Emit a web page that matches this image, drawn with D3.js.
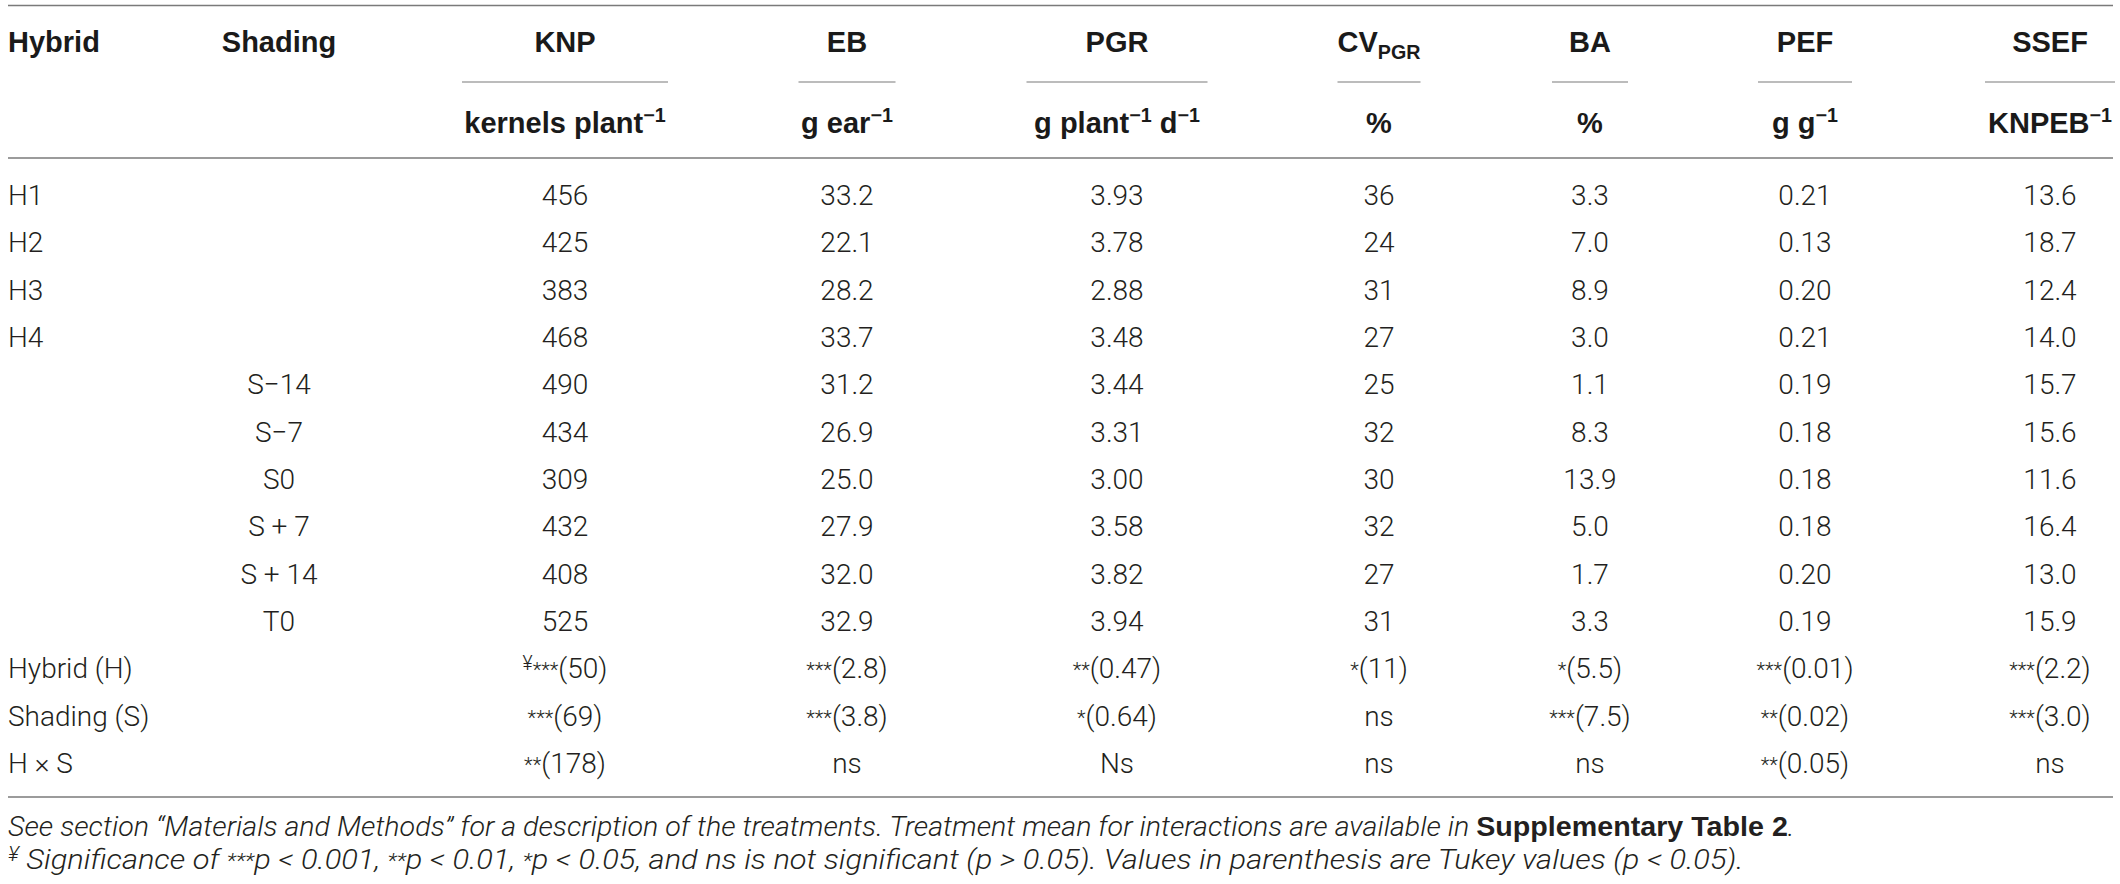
<!DOCTYPE html>
<html>
<head>
<meta charset="utf-8">
<script src="https://cdn.jsdelivr.net/npm/d3@7.9.0/dist/d3.min.js"></script>
<style>
  body { margin: 0; background: #fff; }
  svg { display: block; }
</style>
</head>
<body>
<svg id="chart"></svg>
<script>
// row labels
const hybrids = ['H1', 'H2', 'H3', 'H4'];
const shadings = ['S\u221214', 'S\u22127', 'S0', 'S + 7', 'S + 14', 'T0'];
const sources = ['Hybrid (H)', 'Shading (S)', 'H \u00d7 S'];

// column keys (header text handled below)
const columns = ['KNP', 'EB', 'PGR', 'CVPGR', 'BA', 'PEF', 'SSEF'];
const decimals = [0, 1, 2, 0, 1, 2, 1];

// treatment means, one array per column (H1..H4 then S-14..T0)
const knp  = [456, 425, 383, 468, 490, 434, 309, 432, 408, 525];
const eb   = [33.2, 22.1, 28.2, 33.7, 31.2, 26.9, 25.0, 27.9, 32.0, 32.9];
const pgr  = [3.93, 3.78, 2.88, 3.48, 3.44, 3.31, 3.00, 3.58, 3.82, 3.94];
const cvPgr = [36, 24, 31, 27, 25, 32, 30, 32, 27, 31];
const ba   = [3.3, 7.0, 8.9, 3.0, 1.1, 8.3, 13.9, 5.0, 1.7, 3.3];
const pef  = [0.21, 0.13, 0.20, 0.21, 0.19, 0.18, 0.18, 0.18, 0.20, 0.19];
const ssef = [13.6, 18.7, 12.4, 14.0, 15.7, 15.6, 11.6, 16.4, 13.0, 15.9];

// significance (Tukey values) for Hybrid, Shading, H x S
const knpSig   = ['\u00a5***(50)', '***(69)', '**(178)'];
const ebSig    = ['***(2.8)', '***(3.8)', 'ns'];
const pgrSig   = ['**(0.47)', '*(0.64)', 'Ns'];
const cvPgrSig = ['*(11)', 'ns', 'ns'];
const baSig    = ['*(5.5)', '***(7.5)', 'ns'];
const pefSig   = ['***(0.01)', '**(0.02)', '**(0.05)'];
const ssefSig  = ['***(2.2)', '***(3.0)', 'ns'];

const means = [knp, eb, pgr, cvPgr, ba, pef, ssef];
const sigs = [knpSig, ebSig, pgrSig, cvPgrSig, baSig, pefSig, ssefSig];

const W = 2120, H = 884;
const bodyFont = "Roboto, 'Liberation Sans', sans-serif";
const boldFont = "'Liberation Sans', Arial, sans-serif";
const textCol = '#231f20';
const ruleCol = '#7a7a7a';
const fs = 28;

const svg = d3.select('#chart').attr('width', W).attr('height', H);

const colX = d3.scaleOrdinal()
  .domain(['Shading', ...columns])
  .range([279, 565, 847, 1117, 1379, 1590, 1805, 2050]);
const ruleW = d3.scaleOrdinal()
  .domain(columns)
  .range([206, 97, 181, 83, 76, 94, 130]);

const allRows = [...hybrids, ...shadings, ...sources];
const y = d3.scalePoint().domain(d3.range(allRows.length)).range([195, 763]);
const base = i => y(i) + 10;

// write a run list into a text element; handles sup/sub/star/bold
function runs(text, list, size) {
  let shift = 0;
  list.forEach(r => {
    const t = text.append('tspan').text(r.t);
    let target = 0;
    if (r.sup) { t.attr('font-size', size * 0.68); target = -size * 0.38; }
    else if (r.sub) { t.attr('font-size', size * 0.68); target = size * 0.24; }
    else if (r.star) { t.attr('font-size', size * 0.72); target = -size * 0.04; }
    else if (r.yen) { t.attr('font-size', size * 0.7); target = -size * 0.3; }
    if (target !== shift) { t.attr('dy', target - shift); shift = target; }
    if (r.bold) t.attr('font-family', boldFont).attr('font-weight', 'bold').attr('font-style', 'normal');
  });
}

function sigRuns(s) {
  const m = s.match(/^(\u00a5?)(\**)(.*)$/);
  const out = [];
  if (m[1]) out.push({ t: m[1], yen: true });
  if (m[2]) out.push({ t: m[2], star: true });
  out.push({ t: m[3] });
  return out;
}

// rules
const rules = svg.append('g').attr('stroke', ruleCol).attr('stroke-width', 1.5);
[5.5, 158, 797].forEach(yy => rules.append('line').attr('x1', 8).attr('x2', 2113).attr('y1', yy).attr('y2', yy));
columns.forEach(c => {
  rules.append('line')
    .attr('x1', colX(c) - ruleW(c) / 2).attr('x2', colX(c) + ruleW(c) / 2)
    .attr('y1', 82).attr('y2', 82).attr('stroke-width', 1.2);
});

// header
const head = svg.append('g').attr('font-family', boldFont).attr('font-weight', 'bold')
  .attr('font-size', 29).attr('fill', '#1a1a1a');
head.append('text').attr('x', 8).attr('y', 52).text('Hybrid');
head.append('text').attr('x', colX('Shading')).attr('y', 52).attr('text-anchor', 'middle').text('Shading');
const headRuns = {
  KNP: [{ t: 'KNP' }], EB: [{ t: 'EB' }], PGR: [{ t: 'PGR' }],
  CVPGR: [{ t: 'CV' }, { t: 'PGR', sub: true }],
  BA: [{ t: 'BA' }], PEF: [{ t: 'PEF' }], SSEF: [{ t: 'SSEF' }]
};
const unitRuns = {
  KNP: [{ t: 'kernels plant' }, { t: '\u22121', sup: true }],
  EB: [{ t: 'g ear' }, { t: '\u22121', sup: true }],
  PGR: [{ t: 'g plant' }, { t: '\u22121', sup: true }, { t: ' d' }, { t: '\u22121', sup: true }],
  CVPGR: [{ t: '%' }],
  BA: [{ t: '%' }],
  PEF: [{ t: 'g g' }, { t: '\u22121', sup: true }],
  SSEF: [{ t: 'KNPEB' }, { t: '\u22121', sup: true }]
};
columns.forEach(c => {
  runs(head.append('text').attr('x', colX(c)).attr('y', 52).attr('text-anchor', 'middle'), headRuns[c], 29);
  runs(head.append('text').attr('x', colX(c)).attr('y', 133).attr('text-anchor', 'middle'), unitRuns[c], 29);
});

// body
const body = svg.append('g').attr('font-family', bodyFont).attr('font-weight', 300)
  .attr('font-size', fs).attr('fill', textCol);

body.selectAll('text.hyb').data(hybrids).join('text').attr('class', 'hyb')
  .attr('x', 8).attr('y', (d, i) => base(i)).text(d => d);
body.selectAll('text.sh').data(shadings).join('text').attr('class', 'sh')
  .attr('x', colX('Shading')).attr('y', (d, i) => base(i + hybrids.length))
  .attr('text-anchor', 'middle').text(d => d);
body.selectAll('text.src').data(sources).join('text').attr('class', 'src')
  .attr('x', 8).attr('y', (d, i) => base(i + hybrids.length + shadings.length)).text(d => d);

columns.forEach((c, ci) => {
  const fmt = d3.format(`.${decimals[ci]}f`);
  body.selectAll(`text.m-${c}`).data(means[ci]).join('text').attr('class', `m-${c}`)
    .attr('x', colX(c)).attr('y', (d, i) => base(i)).attr('text-anchor', 'middle').text(d => fmt(d));
  sigs[ci].forEach((s, i) => {
    runs(body.append('text').attr('x', colX(c)).attr('y', base(i + 10)).attr('text-anchor', 'middle'),
      sigRuns(s), fs);
  });
});

// footnotes
const foot = svg.append('g').attr('font-family', bodyFont).attr('font-weight', 300)
  .attr('font-style', 'italic').attr('font-size', fs).attr('fill', textCol);
const f1 = foot.append('text').attr('y', 836);
runs(f1, [
  { t: 'See section \u201cMaterials and Methods\u201d for a description of the treatments. Treatment mean for interactions are available in ' },
  { t: 'Supplementary Table 2', bold: true },
  { t: '.' }
], fs);
const f2 = foot.append('text').attr('y', 869);
runs(f2, [
  { t: '\u00a5', yen: true }, { t: ' Significance of ' }, { t: '***', star: true }, { t: 'p < 0.001, ' },
  { t: '**', star: true }, { t: 'p < 0.01, ' }, { t: '*', star: true }, { t: 'p < 0.05, and ns is not significant (p > 0.05). Values in parenthesis are Tukey values (p < 0.05).' }
], fs);
// squeeze the footnotes to the width they take in the original
[[f1, 1787], [f2, 1736]].forEach(([t, w]) => {
  const bw = t.node().getBBox().width;
  t.attr('transform', `translate(8,0) scale(${w / bw},1)`);
});
</script>
</body>
</html>
